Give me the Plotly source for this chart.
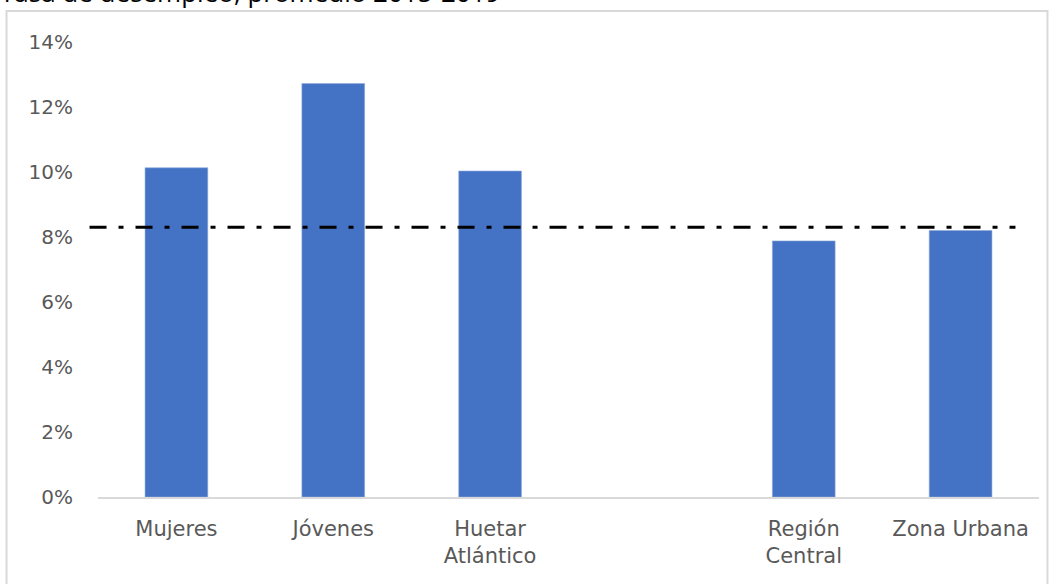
import plotly.graph_objects as go

categorias = ["Mujeres", "Jóvenes", "Huetar<br>Atlántico", "", "Región<br>Central", "Zona Urbana"]
tasas = [10.13, 12.72, 10.03, None, 7.88, 8.2]
promedio = 8.3
ticks_y = [0, 2, 4, 6, 8, 10, 12, 14]
titulo = "Tasa de desempleo, promedio 2015-2019"

posiciones = list(range(len(categorias)))

fig = go.Figure()
fig.add_trace(go.Bar(
    x=posiciones,
    y=tasas,
    width=0.4,
    marker=dict(color="#4472C4", line=dict(color="#8FAADC", width=0.6)),
    showlegend=False,
))

# linea de promedio (punto-raya)
fig.add_shape(
    type="line", xref="paper", yref="y",
    x0=-0.009, x1=0.975, y0=promedio, y1=promedio,
    line=dict(color="black", width=3, dash="17px,12px,5px,12px"),
)

# marco del grafico
fig.add_shape(
    type="rect", xref="paper", yref="paper",
    x0=-0.0972, x1=1.009, y0=-0.22, y1=1.068,
    line=dict(color="#D9D9D9", width=2), layer="below",
)

# titulo (cortado arriba, como en la imagen original)
fig.add_annotation(
    text=titulo, xref="paper", yref="paper",
    x=-0.106, y=1.11, xanchor="left", yanchor="middle",
    showarrow=False, font=dict(size=26, color="black"),
)

fig.update_xaxes(
    range=[-0.5, 5.5],
    tickvals=posiciones, ticktext=categorias,
    showline=True, linecolor="#D9D9D9", linewidth=1.5,
    showgrid=False, zeroline=False, ticks="",
    ticklabelstandoff=12,
    tickfont=dict(size=21, color="#595959", family="DejaVu Sans, sans-serif"),
)
fig.update_yaxes(
    range=[0, 14], tickvals=ticks_y,
    ticktext=[f"{v}%" for v in ticks_y],
    showgrid=False, zeroline=False, showline=False, ticks="",
    ticklabelstandoff=24,
    tickfont=dict(size=20, color="#595959", family="DejaVu Sans, sans-serif"),
)

fig.update_layout(
    width=1058, height=584,
    margin=dict(l=98, r=19, t=42, b=87, autoexpand=False),
    paper_bgcolor="white", plot_bgcolor="white",
    font=dict(family="Open Sans, sans-serif"),
)

fig.write_html("out.html", config={"displayModeBar": False},
               post_script="document.body.style.margin='0';")
